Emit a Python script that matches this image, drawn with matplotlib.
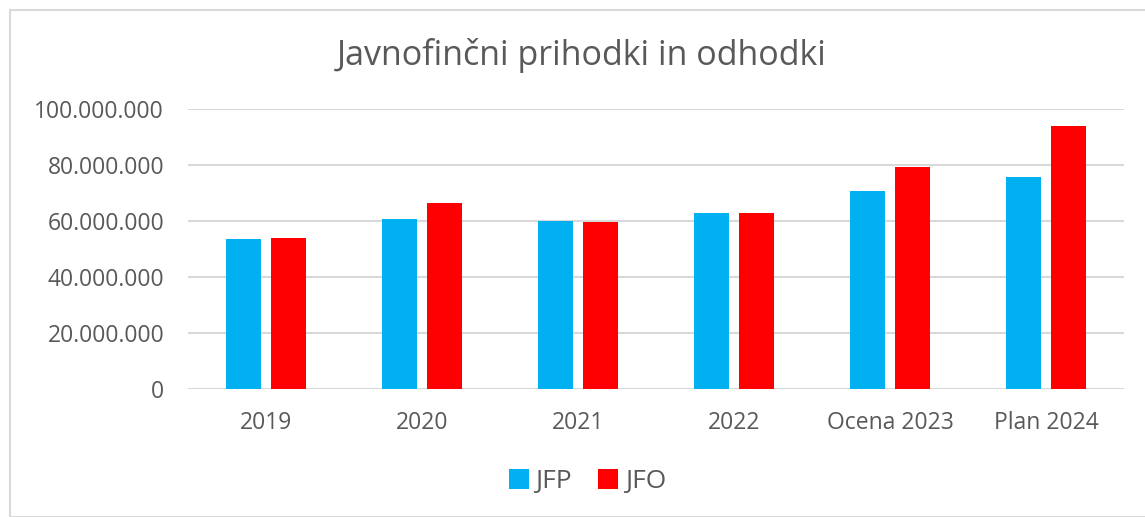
import numpy as np
import matplotlib.pyplot as plt
from matplotlib.patches import Rectangle
from matplotlib.ticker import FuncFormatter

plt.rcParams['font.family'] = ['Open Sans', 'DejaVu Sans']

categories = ['2019', '2020', '2021', '2022', 'Ocena 2023', 'Plan 2024']
jfp = [53.5, 60.8, 60.0, 63.0, 70.7, 75.7]   # mio EUR
jfo = [53.9, 66.3, 59.5, 63.0, 79.2, 93.8]

fig = plt.figure(figsize=(11.45, 5.17), dpi=100)
ax = fig.add_axes([0.164, 0.2476, 0.818, 0.5414])

# outer chart border
fig.patches.append(Rectangle((10/1145, 0), 1.0, 1 - 10/517, transform=fig.transFigure,
                             fill=False, edgecolor='#d9d9d9', linewidth=1.5))

x = np.arange(len(categories))
w = 0.224
off = 0.144
ax.bar(x - off, np.array(jfp) * 1e6, w, color='#00b0f0', label='JFP', zorder=3)
ax.bar(x + off, np.array(jfo) * 1e6, w, color='#ff0000', label='JFO', zorder=3)

ax.set_xlim(-0.5, len(categories) - 0.5)
ax.set_ylim(0, 100e6)
ax.set_yticks(np.arange(0, 100e6 + 1, 20e6))
ax.yaxis.set_major_formatter(FuncFormatter(lambda v, p: f'{int(v):,}'.replace(',', '.')))
ax.set_xticks(x)
ax.set_xticklabels(categories)
ax.grid(axis='y', color='#d9d9d9', linewidth=1.5, zorder=0)
for s in ax.spines.values():
    s.set_visible(False)
ax.tick_params(length=0, labelsize=16.5, colors='#595959')
ax.tick_params(axis='x', pad=16)
ax.tick_params(axis='y', pad=17)

fig.text(0.508, 0.893, 'Javnofinčni prihodki in odhodki', ha='center', va='center',
         fontsize=24.5, color='#595959')

fig.legend(loc='center', bbox_to_anchor=(0.513, 0.068), ncol=2, frameon=False,
           fontsize=19, labelcolor='#595959', handlelength=0.75, handleheight=0.75,
           handletextpad=0.25, columnspacing=1.0)

fig.savefig('out.png', dpi=100)
